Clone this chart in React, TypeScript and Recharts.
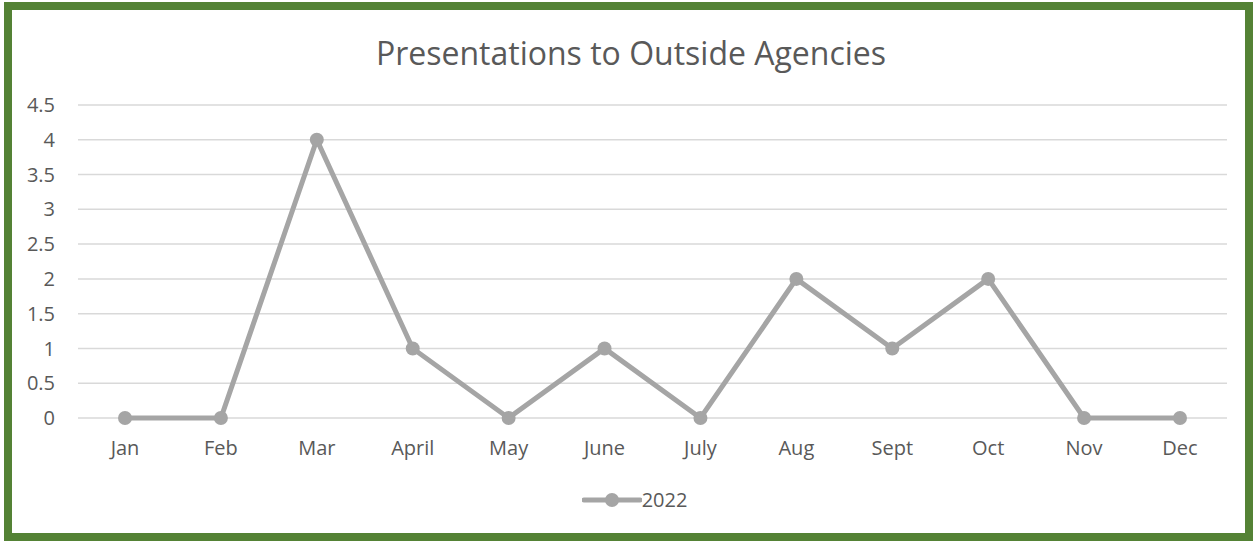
import { LineChart, Line, XAxis, YAxis, CartesianGrid, Legend } from 'recharts'

const months = ['Jan', 'Feb', 'Mar', 'April', 'May', 'June', 'July', 'Aug', 'Sept', 'Oct', 'Nov', 'Dec']
const presentations2022 = [0, 0, 4, 1, 0, 1, 0, 2, 1, 2, 0, 0]
const yTicks = [0, 0.5, 1, 1.5, 2, 2.5, 3, 3.5, 4, 4.5]

const data = months.map((m, i) => ({ month: m, v2022: presentations2022[i] }))

const FONT = '"Open Sans", "Noto Sans", sans-serif'
const TEXT = '#595959'
const LINE = '#A5A5A5'

const LegendContent = () => (
  <div style={{ display: 'flex', justifyContent: 'center', alignItems: 'center', fontFamily: FONT, fontSize: 20, color: TEXT, paddingLeft: 42 }}>
    <svg width={60} height={20}>
      <line x1={2} y1={10} x2={58} y2={10} stroke={LINE} strokeWidth={5} strokeLinecap="round" />
      <circle cx={30} cy={10} r={7} fill={LINE} />
    </svg>
    <span>2022</span>
  </div>
)

export default function App() {
  return (
    <div style={{ position: 'absolute', left: 0, top: 0, width: 1257, height: 541, background: '#fff' }}>
      <div
        style={{
          position: 'absolute', left: 4, top: 2, width: 1249, height: 539,
          boxSizing: 'border-box', border: '8px solid #548235',
        }}
      />
      <div
        style={{
          position: 'absolute', left: 0, top: 31, width: 1262, textAlign: 'center',
          fontFamily: FONT, fontSize: 32, color: TEXT, lineHeight: '44px',
        }}
      >
        Presentations to Outside Agencies
      </div>
      <div style={{ position: 'absolute', left: 0, top: 0 }}>
        <LineChart width={1257} height={541} data={data} margin={{ top: 105, right: 30, left: 0, bottom: 36 }}>
          <CartesianGrid vertical={false} stroke="#D9D9D9" strokeWidth={1.5} />
          <XAxis
            dataKey="month"
            axisLine={false}
            tickLine={false}
            tickMargin={17}
            height={60}
            padding={{ left: 47, right: 47 }}
            tick={{ fill: TEXT, fontSize: 20, fontFamily: FONT }}
          />
          <YAxis
            domain={[0, 4.5]}
            ticks={yTicks}
            axisLine={false}
            tickLine={false}
            width={78}
            tickMargin={17}
            tick={{ fill: TEXT, fontSize: 20, fontFamily: FONT }}
          />
          <Legend verticalAlign="bottom" content={<LegendContent />} wrapperStyle={{ bottom: 28 }} />
          <Line
            type="linear"
            dataKey="v2022"
            stroke={LINE}
            strokeWidth={5}
            dot={{ r: 7, fill: LINE, stroke: LINE, strokeWidth: 0 }}
            isAnimationActive={false}
          />
        </LineChart>
      </div>
    </div>
  )
}
